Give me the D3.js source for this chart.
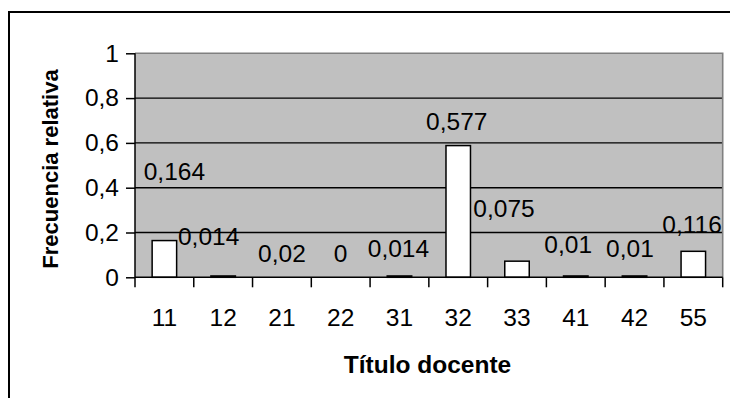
<!DOCTYPE html>
<html><head><meta charset="utf-8">
<script src="https://cdn.jsdelivr.net/npm/d3@7"></script>
<style>body{margin:0;background:#fff}svg{display:block;font-family:Arial,"Liberation Sans",sans-serif}</style>
</head><body><svg id="c" width="730" height="398"></svg>
<script>
const categories = ["11","12","21","22","31","32","33","41","42","55"];
const values = [0.164, 0.006, 0, 0, 0.006, 0.588, 0.072, 0.006, 0.006, 0.116];
const labels = ["0,164","0,014","0,02","0","0,014","0,577","0,075","0,01","0,01","0,116"];
// label placement (layout): baseline in value units, horizontal shift in px
const labelLevel = [0.434, 0.144, 0.070, 0.070, 0.092, 0.658, 0.268, 0.107, 0.089, 0.196];
const labelShift = [10, -14.5, 0, 0, -1, -1.5, -13, -7.6, -4.6, -1.2];
const yTicks = [0, 0.2, 0.4, 0.6, 0.8, 1];
const yTickLabels = ["0","0,2","0,4","0,6","0,8","1"];

const FS = 24.5;
const svg = d3.select("#c");
const L = 135, R = 722.7, T = 53.3, B = 277.3;
const x = d3.scaleBand().domain(categories).range([L, R]).paddingInner(0.5833).paddingOuter(0.29165);
const xb = d3.scaleBand().domain(categories).range([L, R]);
const y = d3.scaleLinear().domain([0, 1]).range([B, T]);

svg.append("rect").attr("x", 9).attr("y", 12).attr("width", 900).attr("height", 600)
  .attr("fill", "#fff").attr("stroke", "#000").attr("stroke-width", 2);

svg.append("rect").attr("x", L).attr("y", T).attr("width", R - L).attr("height", B - T).attr("fill", "#c0c0c0");

// gridlines
svg.append("g").selectAll("line").data(yTicks.filter(d => d > 0 && d < 1)).join("line")
  .attr("x1", L).attr("x2", R).attr("y1", d => y(d)).attr("y2", d => y(d))
  .attr("stroke", "#000").attr("stroke-width", 1.4);
// plot border top/right gray
svg.append("path").attr("d", `M${L},${T}H${R}V${B}`).attr("fill", "none").attr("stroke", "#808080").attr("stroke-width", 1.6);

// bars
svg.append("g").selectAll("rect").data(values).join("rect")
  .attr("x", (d, i) => x(categories[i])).attr("width", x.bandwidth())
  .attr("y", d => y(d)).attr("height", d => B - y(d))
  .attr("fill", d => d > 0 ? "#fff" : "none").attr("stroke", d => d > 0 ? "#000" : "none").attr("stroke-width", 1.5);

// y axis
const yAxis = d3.axisLeft(y).tickValues(yTicks).tickFormat((d, i) => yTickLabels[i]).tickSize(9).tickPadding(7);
const gy = svg.append("g").attr("transform", `translate(${L},0)`).call(yAxis);
gy.select(".domain").attr("stroke", "#000").attr("stroke-width", 1.5).attr("d", `M0,${T}V${B}`);
gy.selectAll(".tick line").attr("stroke", "#000").attr("stroke-width", 1.5);
gy.selectAll(".tick text").attr("font-size", FS).attr("font-family", "Arial,'Liberation Sans',sans-serif").attr("fill", "#000");

// x axis: ticks at band boundaries
const gx = svg.append("g").attr("transform", `translate(0,${B})`);
gx.append("line").attr("x1", L).attr("x2", R).attr("stroke", "#000").attr("stroke-width", 1.5);
const bounds = categories.map(c => xb(c)).concat([R]);
gx.selectAll("line.t").data(bounds).join("line").attr("class", "t")
  .attr("x1", d => d).attr("x2", d => d).attr("y1", 0).attr("y2", 10).attr("stroke", "#000").attr("stroke-width", 1.5);
gx.selectAll("text").data(categories).join("text")
  .attr("x", d => xb(d) + xb.bandwidth() / 2).attr("y", 49).attr("text-anchor", "middle")
  .attr("font-size", FS).text(d => d);

// data labels
svg.append("g").selectAll("text").data(labels).join("text")
  .attr("x", (d, i) => xb(categories[i]) + xb.bandwidth() / 2 + labelShift[i])
  .attr("y", (d, i) => y(labelLevel[i])).attr("text-anchor", "middle")
  .attr("font-size", FS).text(d => d);

// axis titles
svg.append("text").attr("transform", `translate(58,${(68 + 270) / 2}) rotate(-90)`).attr("text-anchor", "middle")
  .attr("font-size", 22).attr("font-weight", "bold").text("Frecuencia relativa");
svg.append("text").attr("x", (343 + 512) / 2).attr("y", 373).attr("text-anchor", "middle")
  .attr("font-size", 24.5).attr("font-weight", "bold").text("Título docente");
</script></body></html>
